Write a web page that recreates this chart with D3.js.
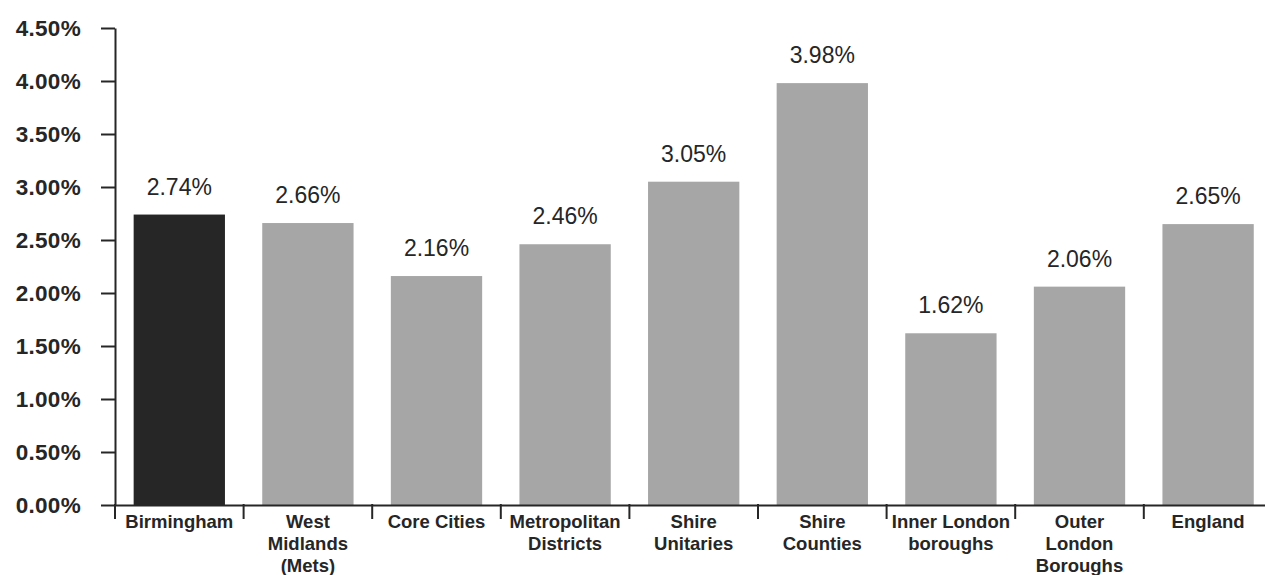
<!DOCTYPE html>
<html>
<head>
<meta charset="utf-8">
<script src="https://cdn.jsdelivr.net/npm/d3@7"></script>
<style>
  html, body { margin: 0; padding: 0; background: #fff; }
  svg { display: block; font-family: "Liberation Sans", Arial, Helvetica, sans-serif; }
</style>
</head>
<body>
<svg id="chart" width="1265" height="575"></svg>
<script>
// Area categories and their values (percent)
const categories = ["Birmingham", "West Midlands (Mets)", "Core Cities", "Metropolitan Districts",
  "Shire Unitaries", "Shire Counties", "Inner London boroughs", "Outer London Boroughs", "England"];
const values = [2.74, 2.66, 2.16, 2.46, 3.05, 3.98, 1.62, 2.06, 2.65];
// Wrapped tick label lines for each category
const tickLines = [
  ["Birmingham"],
  ["West", "Midlands", "(Mets)"],
  ["Core Cities"],
  ["Metropolitan", "Districts"],
  ["Shire", "Unitaries"],
  ["Shire", "Counties"],
  ["Inner London", "boroughs"],
  ["Outer", "London", "Boroughs"],
  ["England"]
];
const yTicks = [0, 0.5, 1, 1.5, 2, 2.5, 3, 3.5, 4, 4.5];
const highlight = "Birmingham";

const svg = d3.select("#chart");
const ink = "#262626";

const x = d3.scaleBand()
  .domain(categories)
  .range([115, 115 + 9 * 128.6])
  .paddingInner(0.29)
  .paddingOuter(0.145);

const y = d3.scaleLinear().domain([0, 4.5]).range([505, 28]);

// Bars
svg.append("g").selectAll("rect")
  .data(categories)
  .join("rect")
  .attr("x", d => x(d))
  .attr("width", x.bandwidth())
  .attr("y", (d, i) => y(values[i]))
  .attr("height", (d, i) => y(0) - y(values[i]))
  .attr("fill", d => d === highlight ? "#262626" : "#a6a6a6");

// Value labels
svg.append("g").selectAll("text")
  .data(categories)
  .join("text")
  .attr("x", d => x(d) + x.bandwidth() / 2)
  .attr("y", (d, i) => y(values[i]) - 20)
  .attr("text-anchor", "middle")
  .attr("font-size", 23)
  .attr("fill", ink)
  .text((d, i) => values[i].toFixed(2) + "%");

// Y axis
const yAxis = svg.append("g")
  .attr("transform", "translate(115,0)")
  .call(d3.axisLeft(y).tickValues(yTicks).tickSize(14).tickSizeOuter(0).tickPadding(20)
    .tickFormat(d => d3.format(".2f")(d) + "%"));
yAxis.selectAll("path, line").attr("stroke", ink).attr("stroke-width", 2);
yAxis.selectAll("text").attr("font-size", 22.5).attr("font-weight", "bold").attr("fill", ink)
  .attr("letter-spacing", "0.3px")
  .attr("font-family", "Liberation Sans, Arial, sans-serif");

// X axis
const xAxis = svg.append("g")
  .attr("transform", "translate(0,505)")
  .call(d3.axisBottom(x).tickSize(0).tickSizeOuter(0).tickPadding(0));
xAxis.select(".domain").attr("stroke", ink).attr("stroke-width", 2);
xAxis.selectAll(".tick text").each(function (d, i) {
  const t = d3.select(this).text(null)
    .attr("y", 23).attr("dy", null)
    .attr("font-size", 18.5).attr("font-weight", "bold").attr("fill", ink)
    .attr("font-family", "Liberation Sans, Arial, sans-serif");
  tickLines[categories.indexOf(d)].forEach((line, j) => {
    t.append("tspan").attr("x", 0).attr("dy", j === 0 ? 0 : 22).text(line);
  });
});

// Category boundary ticks
const bounds = categories.map(d => x(d) + x.bandwidth() / 2 - x.step() / 2)
  .concat([x.range()[1]]);
xAxis.append("g").selectAll("line")
  .data(bounds)
  .join("line")
  .attr("x1", d => d).attr("x2", d => d)
  .attr("y1", -1).attr("y2", 14)
  .attr("stroke", ink).attr("stroke-width", 2);
</script>
</body>
</html>
